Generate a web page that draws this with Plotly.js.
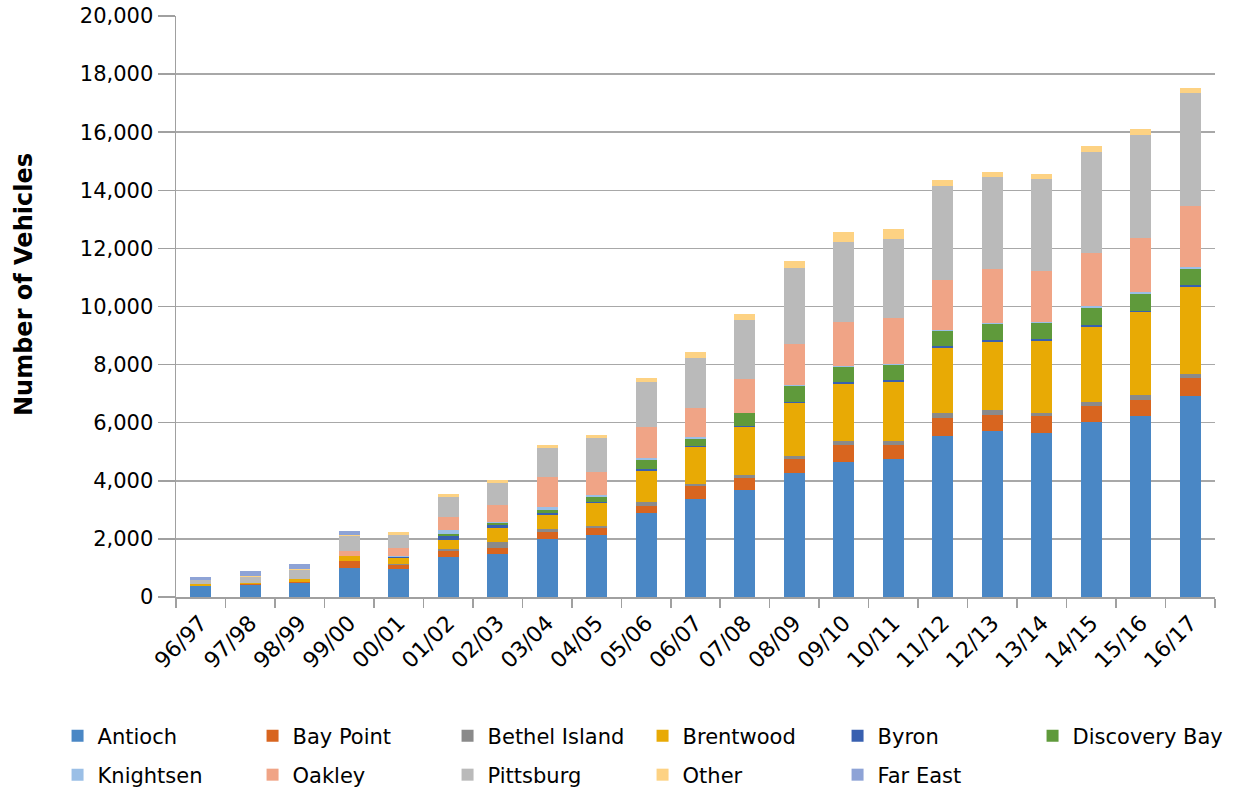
<!DOCTYPE html>
<html>
<head>
<meta charset="utf-8">
<script src="https://cdn.plot.ly/plotly-3.0.1.min.js"></script>
<style>html,body{margin:0;padding:0;background:#fff;}#chart{width:1233px;height:791px;}</style>
</head>
<body>
<div id="chart"></div>
<script>
var categories = ["96/97","97/98","98/99","99/00","00/01","01/02","02/03","03/04","04/05","05/06","06/07","07/08","08/09","09/10","10/11","11/12","12/13","13/14","14/15","15/16","16/17"];

var antioch      = [370, 415, 470, 990, 980, 1390, 1485, 2010, 2150, 2875, 3380, 3695, 4253, 4632, 4736, 5552, 5724, 5655, 6034, 6241, 6931];
var bayPoint     = [20, 45, 57, 240, 130, 210, 210, 230, 240, 265, 425, 415, 483, 586, 482, 597, 552, 563, 552, 552, 598];
var bethelIsland = [0, 0, 0, 0, 10, 60, 200, 100, 60, 115, 70, 105, 115, 138, 138, 196, 172, 127, 127, 173, 138];
var brentwood    = [45, 35, 90, 175, 220, 310, 485, 480, 770, 1090, 1300, 1620, 1816, 1989, 2046, 2241, 2345, 2483, 2597, 2839, 3000];
var byron        = [0, 0, 0, 0, 45, 140, 110, 60, 50, 70, 25, 50, 46, 57, 58, 46, 58, 57, 58, 46, 57];
var discoveryBay = [0, 0, 0, 0, 0, 70, 70, 100, 160, 310, 250, 435, 551, 518, 517, 517, 551, 540, 575, 574, 563];
var knightsen    = [0, 0, 0, 0, 25, 140, 15, 130, 90, 50, 50, 25, 35, 46, 46, 46, 46, 58, 68, 69, 69];
var oakley       = [0, 0, 0, 195, 265, 450, 590, 1030, 790, 1060, 990, 1150, 1402, 1494, 1575, 1702, 1828, 1724, 1817, 1862, 2104];
var pittsburg    = [150, 205, 300, 485, 475, 670, 770, 980, 1160, 1560, 1750, 2045, 2632, 2770, 2724, 3254, 3184, 3184, 3505, 3541, 3890];
var other        = [10, 35, 35, 35, 80, 90, 90, 125, 115, 160, 185, 195, 230, 333, 345, 196, 161, 161, 196, 200, 170];
var farEast      = [100, 150, 170, 140, 0, 0, 0, 0, 0, 0, 0, 0, 0, 0, 0, 0, 0, 0, 0, 0, 0];

var seriesNames = ["Antioch","Bay Point","Bethel Island","Brentwood","Byron","Discovery Bay","Knightsen","Oakley","Pittsburg","Other","Far East"];
var seriesValues = [antioch, bayPoint, bethelIsland, brentwood, byron, discoveryBay, knightsen, oakley, pittsburg, other, farEast];
var seriesColors = ["#4a87c5","#d8651f","#8a8a8a","#e8aa05","#3860b0","#5f9a3b","#9bbfe6","#f0a486","#bababa","#fdd283","#8ea3d6"];

var yTitle = "Number of Vehicles";

var FONT = "DejaVu Sans";
var traces = seriesNames.map(function(n, i){
  return {
    type: "bar",
    name: n,
    x: categories,
    y: seriesValues[i],
    marker: {color: seriesColors[i], line: {width: 0}},
    legend: i < 6 ? "legend" : "legend2",
    hoverinfo: "x+y+name"
  };
});

var legendCommon = {
  orientation: "h",
  xref: "paper", yref: "paper",
  xanchor: "left", yanchor: "middle",
  font: {family: FONT, size: 21, color: "#000"},
  entrywidth: 150,
  entrywidthmode: "pixels",
  bgcolor: "rgba(0,0,0,0)",
  traceorder: "normal"
};

var layout = {
  width: 1233, height: 791,
  margin: {l: 176, r: 18, t: 16, b: 194, autoexpand: false},
  paper_bgcolor: "#fff", plot_bgcolor: "#fff",
  barmode: "stack",
  bargap: 0.575,
  showlegend: true,
  legend: Object.assign({}, legendCommon, {x: -0.114, y: -0.2392}),
  legend2: Object.assign({}, legendCommon, {x: -0.114, y: -0.3064}),
  xaxis: {
    type: "category",
    tickangle: -45,
    tickfont: {family: FONT, size: 22, color: "#000"},
    ticklabelstandoff: 3,
    showline: true, linecolor: "#a0a0a0", linewidth: 1.5,
    ticks: "outside", tickson: "boundaries", ticklen: 9, tickcolor: "#a0a0a0", tickwidth: 1.5,
    showgrid: false,
    automargin: false
  },
  yaxis: {
    range: [0, 20000],
    dtick: 2000,
    tickformat: ",d",
    tickfont: {family: FONT, size: 21, color: "#000"},
    showline: true, linecolor: "#a0a0a0", linewidth: 1.5,
    ticks: "outside", ticklen: 17, tickcolor: "#a0a0a0", tickwidth: 1.5,
    showgrid: true, gridcolor: "#a8a8a8", gridwidth: 1.5,
    zeroline: false,
    automargin: false
  },
  annotations: [{
    text: yTitle,
    xref: "paper", yref: "paper",
    x: -0.1463, y: 0.5387,
    xanchor: "center", yanchor: "middle",
    textangle: -90,
    showarrow: false,
    font: {family: FONT, size: 24, color: "#000", weight: "bold"}
  }]
};

Plotly.newPlot("chart", traces, layout, {displayModeBar: false, staticPlot: true});
</script>
</body>
</html>
